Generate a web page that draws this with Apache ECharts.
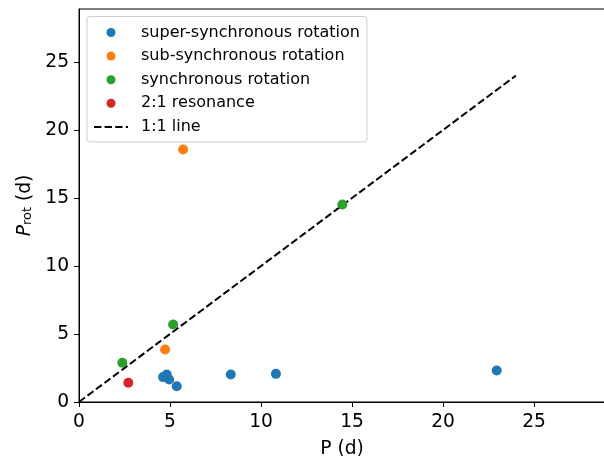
<!DOCTYPE html>
<html><head><meta charset="utf-8">
<script src="https://cdn.jsdelivr.net/npm/echarts@6/dist/echarts.min.js"></script>
<style>html,body{margin:0;padding:0;background:#fff}#c{width:604px;height:456px}</style>
</head><body><div id="c"></div>
<script>
const superP = [4.62, 4.82, 4.95, 5.37, 8.34, 10.82, 22.95];
const superProt = [1.83, 2.02, 1.65, 1.16, 2.02, 2.07, 2.32];
const subP = [4.73, 5.72];
const subProt = [3.86, 18.57];
const syncP = [2.38, 5.17, 14.47];
const syncProt = [2.88, 5.70, 14.52];
const resP = [2.71];
const resProt = [1.41];
const lineX = [0, 24];
const tickVals = [0, 5, 10, 15, 20, 25];
const names = ['super-synchronous rotation', 'sub-synchronous rotation', 'synchronous rotation', '2:1 resonance', '1:1 line'];
const colors = ['#1f77b4', '#ff7f0e', '#2ca02c', '#d62728', '#000000'];

const zip = (a, b) => a.map((v, i) => [v, b[i]]);
const FONT = 'DejaVu Sans';
const chart = echarts.init(document.getElementById('c'), null, {renderer: 'canvas'});
const axisCommon = {
  type: 'value', min: 0, max: 28.9,
  axisLine: {show: true, onZero: false, lineStyle: {color: '#000', width: 1}},
  axisTick: {show: true, length: 5, lineStyle: {color: '#000', width: 1}, customValues: tickVals},
  splitLine: {show: false},
  nameLocation: 'middle',
  nameTextStyle: {fontFamily: FONT, fontSize: 18.67, color: '#000'}
};
const labelStyle = (m) => ({fontFamily: FONT, fontSize: 18.67, color: '#000', margin: m, customValues: tickVals});
const scat = (i, x, y) => ({
  name: names[i], type: 'scatter', data: zip(x, y), symbolSize: 10,
  itemStyle: {color: colors[i], opacity: 1}, z: 3
});
chart.setOption({
  animation: false,
  backgroundColor: '#fff',
  grid: {left: 79, top: 9, width: 526, bottom: 54, show: true, borderColor: '#000', borderWidth: 1,
         backgroundColor: 'transparent', containLabel: false, outerBoundsMode: 'none'},
  xAxis: Object.assign({}, axisCommon, {name: 'P (d)', nameGap: 38, axisLabel: labelStyle(11)}),
  yAxis: Object.assign({}, axisCommon, {
    axisLabel: labelStyle(10),
    name: '{p|P}{s|rot}{t| (d)}', nameGap: 44, nameRotate: 90,
    nameTextStyle: {fontFamily: FONT, fontSize: 18.67, color: '#000',
      rich: {
        p: {fontFamily: FONT, fontSize: 18.67, fontStyle: 'italic', color: '#000', lineHeight: 22, verticalAlign: 'bottom'},
        s: {fontFamily: FONT, fontSize: 13, color: '#000', lineHeight: 22, verticalAlign: 'bottom', padding: [8, 0, 0, 0]},
        t: {fontFamily: FONT, fontSize: 18.67, color: '#000', lineHeight: 22, verticalAlign: 'bottom'}
      }}
  }),
  legend: {
    orient: 'vertical', left: 87, top: 16.5,
    padding: [8, 7, 7, 6],
    itemWidth: 34, itemHeight: 9, itemGap: 7.6,
    backgroundColor: 'rgba(255,255,255,0.8)', borderColor: '#cccccc', borderWidth: 1, borderRadius: 3,
    textStyle: {fontFamily: FONT, fontSize: 16, color: '#000', lineHeight: 16, padding: [0, 0, 0, 8]},
    data: names.map((n, i) => i < 4 ? {name: n, icon: 'circle'} : {name: n, itemStyle: {opacity: 0}})
  },
  series: [
    {name: names[4], type: 'line', data: zip(lineX, lineX), symbol: 'none', z: 1,
     lineStyle: {color: '#000', width: 2, type: [7.4, 3.2]}, itemStyle: {color: '#000'}},
    scat(0, superP, superProt),
    scat(1, subP, subProt),
    scat(2, syncP, syncProt),
    scat(3, resP, resProt)
  ]
});
</script></body></html>
